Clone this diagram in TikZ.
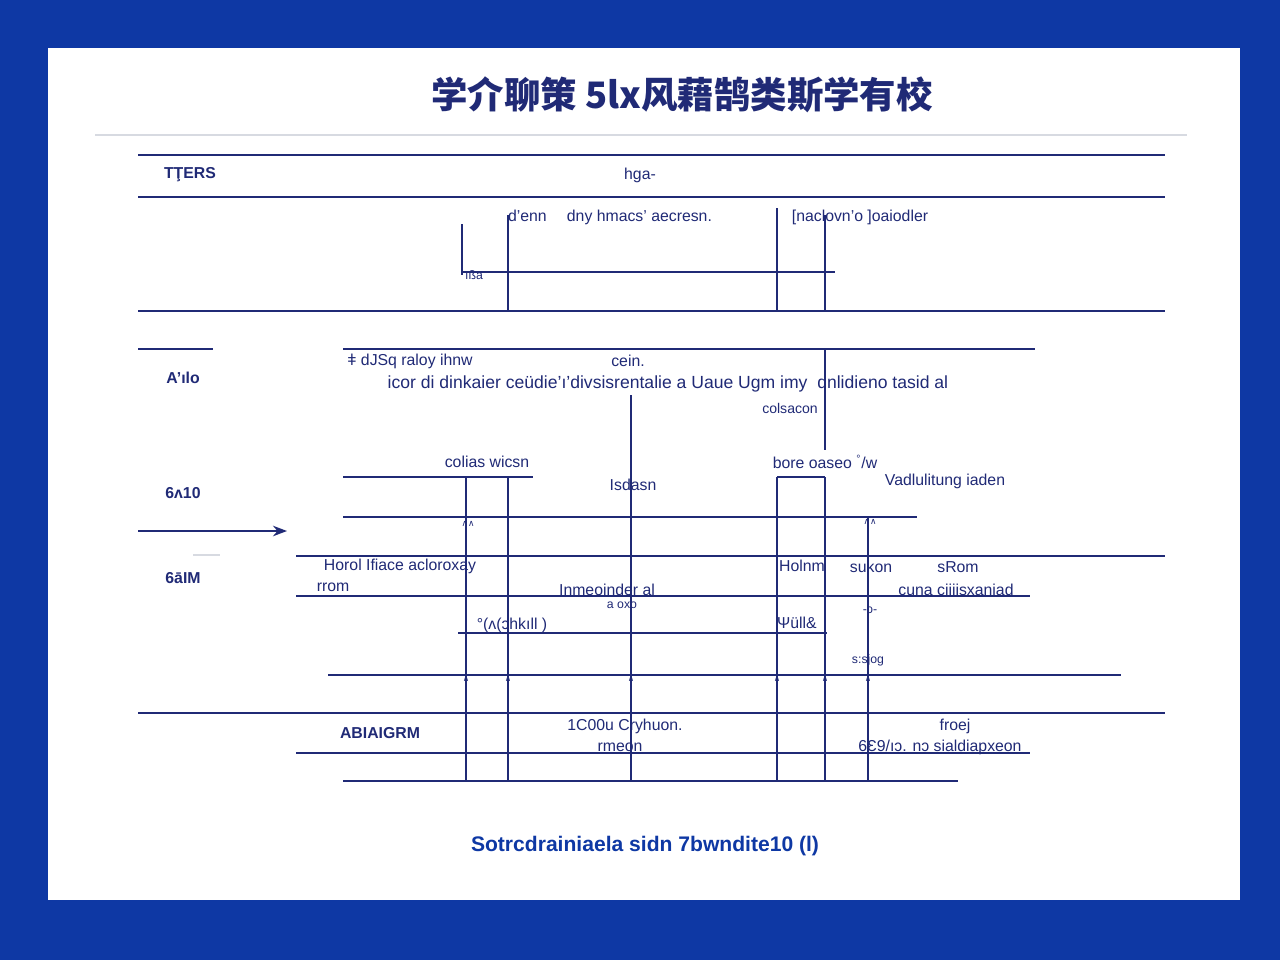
\documentclass[tikz,border=0pt]{standalone}
\usepackage{fontspec}
\setmainfont{Liberation Sans}
\newfontfamily\cjk{Noto Sans CJK SC}
\newfontfamily\sym{DejaVu Sans}
\usetikzlibrary{arrows.meta, positioning}
\definecolor{frame}{RGB}{14, 56, 164}
\definecolor{ink}{RGB}{32, 42, 118}
\definecolor{rule}{RGB}{215, 218, 225}
\tikzstyle{lane} = [draw=ink, line width=1.1pt]
\tikzstyle{wire} = [draw=ink, line width=1.1pt]
\tikzstyle{lbl} = [text=ink, font=\small, inner sep=1pt]
\tikzstyle{rowlbl} = [text=ink, font=\small\bfseries, inner sep=1pt]
\tikzstyle{tick} = [text=ink, font=\sym\tiny, inner sep=0pt]
\tikzstyle{arrow} = [line width=1.1pt, draw=ink, -{Stealth[length=8pt]}]

\begin{document}
\begin{tikzpicture}[x=0.02cm, y=-0.02cm]
    % Frame
    \fill[frame] (0,0) rectangle (1280,960);
    \fill[white] (48,48) rectangle (1240,900);
    \useasboundingbox (0,0) rectangle (1280,960);

    % Title
    \node[text=ink, font=\cjk\bfseries\huge] (title) at (682,95) {学介聊策 5lx风藉鹄类斯学有校};
    \draw[rule, line width=1pt] (95,135) -- (1187,135);

    % Top band
    \coordinate (t1) at (138,155); \coordinate (t2) at (1165,155);
    \coordinate (t3) at (138,197); \coordinate (t4) at (1165,197);
    \coordinate (t5) at (138,311); \coordinate (t6) at (1165,311);
    \draw[lane] (t1) -- (t2);
    \draw[lane] (t3) -- (t4);
    \draw[lane] (t5) -- (t6);
    \node[rowlbl] (r0) at (190,175) {TŢERS};
    \node[lbl] (h0) at (640,175) {hga-};
    \node[lbl] (h1) at (610,217) {d'enn \quad dny hmacs' aecresn.};
    \node[lbl] (h2) at (860,217) {[naclovn'o ]oaiodler};
    \node[lbl, font=\scriptsize] (h3) at (474,275) {ıßa};
    \coordinate (b1) at (462,272); \coordinate (b2) at (835,272);
    \draw[wire] (462,224) -- (462,275);
    \draw[wire] (b1) -- (b2);
    \draw[wire] (508,215) -- (508,311);
    \draw[wire] (777,208) -- (777,311);
    \draw[wire] (825,215) -- (825,311);

    % Middle band
    \draw[lane] (138,349) -- (213,349);
    \draw[lane] (343,349) -- (1035,349);
    \node[rowlbl] (r1) at (183,378) {A'ılo};
    \node[rowlbl] (r2) at (183,493) {6ʌ10};
    \node[rowlbl] (r3) at (183,578) {6āIM};
    \node[lbl] (m1) at (410,361) {ǂ dJSq raloy ihnw};
    \node[lbl] (m2) at (628,361) {cein.};
    \node[lbl, font=\normalsize] (m3) at (668,384) {icor di dinkaier ceüdie'ı'divsisrentalie a Uaue Ugm imy \ dnlidieno tasid al};
    \node[lbl, font=\footnotesize] (m4) at (790,408) {colsacon};
    \draw[wire] (825,349) -- (825,450);
    \node[lbl] (m5) at (487,462) {colias wicsn};
    \node[lbl] (m6) at (825,462) {bore oaseo \textsuperscript{°}/w};
    \node[lbl] (m7) at (633,485) {Isdasn};
    \node[lbl] (m8) at (945,481) {Vadlulitung iaden};
    \draw[lane] (343,477) -- (533,477);
    \draw[lane] (777,477) -- (825,477);
    \draw[lane] (343,517) -- (917,517);
    \coordinate (a1) at (138,531); \coordinate (a2) at (287,531);
    \draw[arrow] (a1) -- (a2);
    \node[tick] at (468,524) {∧∧};
    \node[tick] at (870,522) {∧∧};

    % Lower band
    \draw[rule, line width=1pt] (193,555) -- (220,555);
    \draw[lane] (296,556) -- (1165,556);
    \draw[lane] (296,596) -- (1030,596);
    \draw[lane] (458,633) -- (827,633);
    \draw[lane] (328,675) -- (1121,675);
    \node[lbl] (l1) at (400,566) {Horol Ifiace acloroxay};
    \node[lbl] (l2) at (333,587) {rrom};
    \node[lbl] (l3) at (607,590) {Inmeoinder al};
    \node[lbl, font=\scriptsize] (l4) at (622,605) {a oxo};
    \node[lbl] (l5) at (512,625) {°(ʌ(ɔhkıll )};
    \node[lbl] (l6) at (802,566) {Holnm};
    \node[lbl] (l7) at (871,567) {sukon};
    \node[lbl] (l8) at (958,567) {sRom};
    \node[lbl] (l9) at (956,590) {cuna ciiiisxaniad};
    \node[lbl] (l10) at (797,623) {Ψüll\&};
    \node[lbl, font=\scriptsize] (l11) at (868,660) {s:sjog};
    \node[lbl, font=\scriptsize] at (870,610) {-ɔ-};

    % Bottom band
    \draw[lane] (138,713) -- (1165,713);
    \draw[lane] (296,753) -- (1030,753);
    \draw[lane] (343,781) -- (958,781);
    \node[rowlbl] (r4) at (380,733) {ABIAIGRM};
    \node[lbl] (q1) at (625,726) {1C00u Cryhuon.};
    \node[lbl] (q2) at (620,747) {rmeon};
    \node[lbl] (q3) at (955,726) {froej};
    \node[lbl] (q4) at (940,747) {6Ɛ9/ıɔ. nɔ sialdiapxeon};

    % Lifelines
    \draw[wire] (631,395) -- (631,781);
    \draw[wire] (466,477) -- (466,781);
    \draw[wire] (508,477) -- (508,781);
    \draw[wire] (777,477) -- (777,781);
    \draw[wire] (825,477) -- (825,781);
    \draw[wire] (868,517) -- (868,781);
    \foreach \x in {466,508,631,777,825,868}
        \node[tick] at (\x,679) {∧};

    % Footer
    \node[text=frame, font=\large\bfseries] (foot) at (645,846) {Sotrcdrainiaela sidn 7bwndite10 (l)};
\end{tikzpicture}
\end{document}
